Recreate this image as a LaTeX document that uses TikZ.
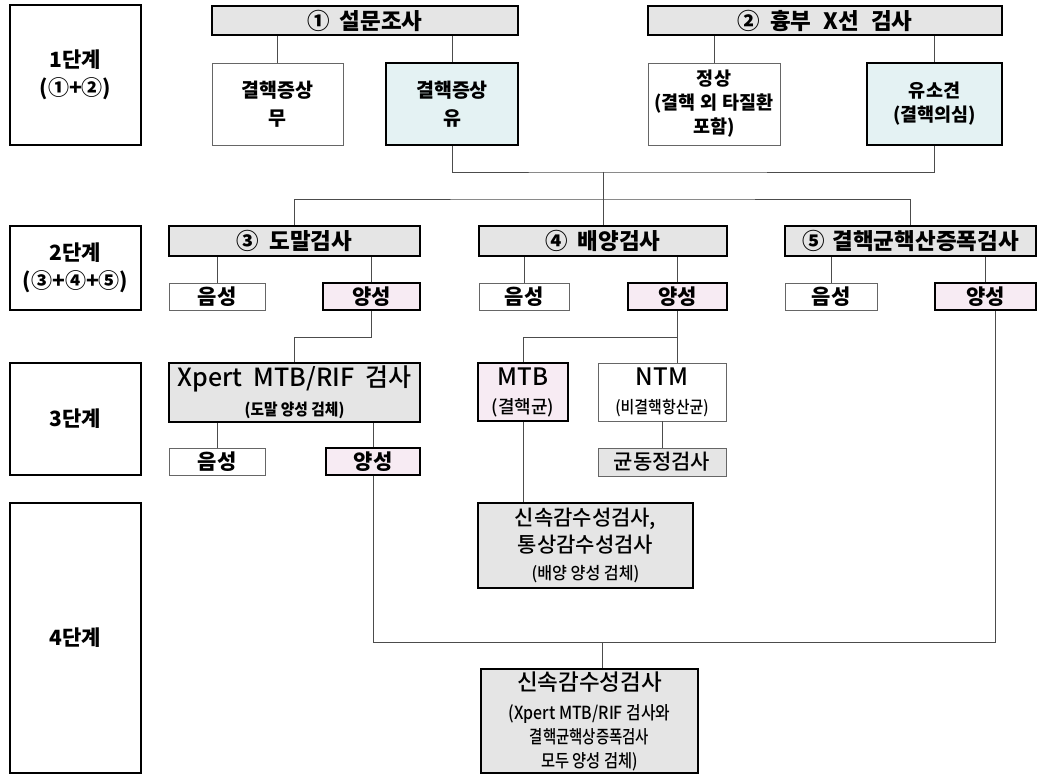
\documentclass[tikz,border=0pt]{standalone}
\usepackage{fontspec}
\setmainfont{Noto Sans CJK KR}
\newfontfamily\medf{Noto Sans CJK KR Medium}
\usepackage{graphicx}
\definecolor{hgray}{RGB}{229,229,229}
\definecolor{cyanf}{RGB}{228,242,243}
\definecolor{pinkf}{RGB}{247,235,243}
\newcommand\bxnode[7]{\node[#6, minimum width={(#4)-(#2)}, minimum height={(#5)-(#3)}] (#1) at ({((#2)+(#4))/2},{((#3)+(#5))/2}) {#7};}
\newcommand\cx[2][0.85]{\scalebox{#1}[1]{#2}}
\begin{document}
\begin{tikzpicture}[x=1pt,y=-1pt,
 basebox/.style={rectangle, inner sep=0pt, align=center, text=black},
 thkbox/.style={basebox, draw=black, line width=2.7pt},
 thnbox/.style={basebox, draw=black!60, line width=0.9pt},
 stagebox/.style={thkbox, fill=white, font=\fontsize{21}{28}\selectfont\bfseries},
 hdrbox/.style={thkbox, fill=hgray, font=\fontsize{22.5}{24}\selectfont\bfseries},
 optwbox/.style={thnbox, fill=white, font=\fontsize{19.5}{28}\selectfont\bfseries},
 optcbox/.style={thkbox, fill=cyanf, font=\fontsize{19.5}{28}\selectfont\bfseries},
 negbox/.style={thnbox, fill=white, font=\fontsize{21}{22}\selectfont\bfseries},
 posbox/.style={thkbox, fill=pinkf, font=\fontsize{21}{22}\selectfont\bfseries},
 conn/.style={draw=black!70, line width=0.9pt}
]
\useasboundingbox[fill=white] (0,0) rectangle (1038,775);
% stage boxes
\bxnode{st1}{10}{5}{141}{145}{stagebox}{1단계\\(①+②)}
\bxnode{st2}{10}{226}{141}{310}{stagebox}{2단계\\(③+④+⑤)}
\bxnode{st3}{10}{363}{141}{475}{stagebox}{3단계}
\bxnode{st4}{10}{503}{141}{773}{stagebox}{4단계}
% stage 1
\bxnode{q1}{212}{6}{518}{35}{hdrbox}{①\hspace{10pt}설문조사}
\bxnode{q2}{648}{6}{1002}{35}{hdrbox}{②\hspace{10pt}흉부\hspace{12pt}X선\hspace{12pt}검사}
\bxnode{mu}{212}{63}{343}{145}{optwbox}{결핵증상\\무}
\bxnode{yu}{386}{63}{518}{145}{optcbox}{결핵증상\\유}
\bxnode{js}{648}{63}{780}{145}{optwbox,font=\fontsize{18.5}{24}\selectfont\bfseries}{정상\\(결핵\hspace{5pt}외\hspace{5pt}타질환\\포함)}
\bxnode{ys}{867}{63}{1002}{145}{optcbox,font=\fontsize{18.5}{24}\selectfont\bfseries}{유소견\\(결핵의심)}
% stage 2
\bxnode{s3}{169}{226}{420}{256}{hdrbox}{③\hspace{10pt}도말검사}
\bxnode{s4}{479}{226}{727}{256}{hdrbox}{④\hspace{10pt}배양검사}
\bxnode{s5}{785}{226}{1036}{256}{hdrbox}{⑤\hspace{8pt}결핵균핵산증폭검사}
\bxnode{n3}{169}{283}{265}{310}{negbox}{음성}
\bxnode{p3}{323}{283}{420}{310}{posbox}{양성}
\bxnode{n4}{479}{283}{569}{310}{negbox}{음성}
\bxnode{p4}{628}{283}{727}{310}{posbox}{양성}
\bxnode{n5}{785}{283}{877}{310}{negbox}{음성}
\bxnode{p5}{935}{283}{1036}{310}{posbox}{양성}
% stage 3
\bxnode{xp}{169}{363}{420}{422}{thkbox,fill=hgray,font=\fontsize{25}{29}\medf}{Xpert\hspace{11pt}MTB/RIF\hspace{11pt}검사\\{\fontsize{16}{17}\selectfont\bfseries\cx[0.92]{(도말 양성 검체)}}}
\bxnode{n6}{169}{448}{265}{475}{negbox}{음성}
\bxnode{p6}{326}{448}{420}{475}{posbox}{양성}
\bxnode{mtb}{478}{363}{568}{421}{thkbox,fill=pinkf,font=\fontsize{24}{28}\medf}{MTB\\{\fontsize{18}{19}\selectfont (결핵균)}}
\bxnode{ntm}{598}{363}{726}{421}{thnbox,fill=white,font=\fontsize{24}{28}\medf}{NTM\\{\fontsize{17}{19}\selectfont\cx[0.88]{(비결핵항산균)}}}
\bxnode{gd}{598}{448}{726}{476}{thnbox,fill=hgray,font=\fontsize{21}{22}\medf}{균동정검사}
\bxnode{sk1}{478}{503}{693}{588}{thkbox,fill=hgray,font=\fontsize{21}{27}\medf}{신속감수성검사,\\통상감수성검사\\{\fontsize{17}{19}\selectfont\cx[0.95]{(배양 양성 검체)}}}
% stage 4
\bxnode{fin}{481}{669}{698}{773}{thkbox,fill=hgray,font=\fontsize{22.5}{24}\medf}{신속감수성검사\\[5pt]{\fontsize{18}{23}\selectfont\cx[0.88]{(Xpert MTB/RIF 검사와}}\\{\fontsize{18}{23}\selectfont\cx[0.8]{결핵균핵상증폭검사}}\\{\fontsize{18}{23}\selectfont\cx[0.85]{모두 양성 검체)}}}
% connectors
\draw[conn] (q1.south -| mu.north) -- (mu.north);
\draw[conn] (q1.south -| yu.north) -- (yu.north);
\draw[conn] (q2.south -| js.north) -- (js.north);
\draw[conn] (q2.south -| ys.north) -- (ys.north);
\coordinate (m1) at (603,172);
\coordinate (m2) at (603,199);
\draw[conn] (yu.south) |- (m1) -| (ys.south);
\draw[conn] (m1) -- (s4.north);
\draw[conn] (s3.north) |- (m2) -| (s5.north);
\draw[conn] (s3.south -| n3.north) -- (n3.north);
\draw[conn] (s3.south -| p3.north) -- (p3.north);
\draw[conn] (s4.south -| n4.north) -- (n4.north);
\draw[conn] (s4.south -| p4.north) -- (p4.north);
\draw[conn] (s5.south -| n5.north) -- (n5.north);
\draw[conn] (s5.south -| p5.north) -- (p5.north);
\draw[conn] (p3.south) -- ++(0,26) -| (xp.north);
\coordinate (j4) at (677.5,337);
\draw[conn] (p4.south) -- (p4.south |- ntm.north);
\draw[conn] (j4) -| (mtb.north);
\draw[conn] (xp.south -| n6.north) -- (n6.north);
\draw[conn] (xp.south -| p6.north) -- (p6.north);
\draw[conn] (ntm.south) -- (gd.north);
\draw[conn] (mtb.south) -- (mtb.south |- sk1.north);
\coordinate (jr) at (995,642);
\coordinate (jm) at (602,642);
\draw[conn] (p6.south) |- (jr) -- (jr |- p5.south);
\draw[conn] (jm) -- (jm |- fin.north);
\end{tikzpicture}
\end{document}
